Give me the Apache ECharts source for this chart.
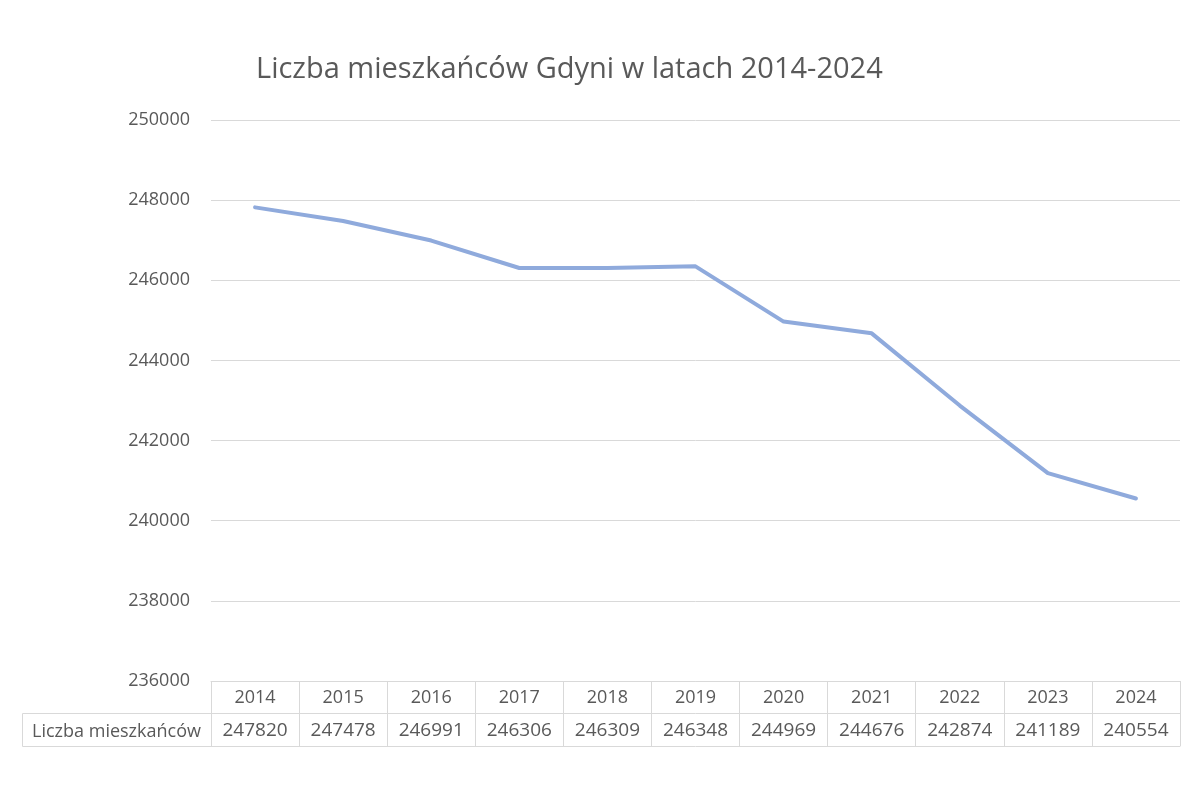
<!DOCTYPE html>
<html>
<head>
<meta charset="utf-8">
<script src="https://cdn.jsdelivr.net/npm/echarts@6/dist/echarts.min.js"></script>
<style>html,body{margin:0;padding:0;background:#fff}#c{width:1200px;height:800px}</style>
</head>
<body>
<div id="c"></div>
<script>
const years = ['2014','2015','2016','2017','2018','2019','2020','2021','2022','2023','2024'];
const population = [247820,247478,246991,246306,246309,246348,244969,244676,242874,241189,240554];
const seriesName = 'Liczba mieszkańców';
const titleText = 'Liczba mieszkańców Gdyni w latach 2014-2024';
const yTicks = {min: 236000, max: 250000, interval: 2000};

const FONT = 'Open Sans';
const TXT = '#595959';
const GRID = '#d9d9d9';

const chart = echarts.init(document.getElementById('c'));
chart.setOption({
  animation: false,
  textStyle: {fontFamily: FONT},
  title: {
    text: titleText, left: 251, top: 50,
    textStyle: {fontFamily: FONT, fontSize: 29, fontWeight: 'normal', color: TXT}
  },
  grid: {left: 211, right: 20, top: 120, bottom: 119, containLabel: false},
  xAxis: [
    {
      type: 'category', data: years, position: 'bottom', boundaryGap: true,
      axisLine: {show: true, lineStyle: {color: GRID, width: 1}},
      axisTick: {show: true, interval: 0, length: 65, lineStyle: {color: GRID, width: 1}},
      axisLabel: {interval: 0, margin: 8, fontSize: 18, color: TXT, fontFamily: FONT},
      splitLine: {show: false}
    },
    {
      type: 'category', data: population.map(String), position: 'bottom', offset: 32, boundaryGap: true,
      axisLine: {show: true, lineStyle: {color: GRID, width: 1}},
      axisTick: {show: false},
      axisLabel: {interval: 0, margin: 8, fontSize: 19, color: TXT, fontFamily: FONT},
      splitLine: {show: false}
    },
    {
      type: 'category', data: years, position: 'bottom', offset: 65, boundaryGap: true,
      axisLine: {show: true, lineStyle: {color: GRID, width: 1}},
      axisTick: {show: false}, axisLabel: {show: false}, splitLine: {show: false}
    }
  ],
  yAxis: {
    type: 'value', min: yTicks.min, max: yTicks.max, interval: yTicks.interval,
    axisLine: {show: false}, axisTick: {show: false},
    axisLabel: {margin: 21, fontSize: 18, color: TXT, fontFamily: FONT, formatter: v => String(v)},
    splitLine: {lineStyle: {color: GRID, width: 1}}
  },
  series: [{
    name: seriesName, type: 'line', data: population, xAxisIndex: 0,
    showSymbol: false, symbol: 'none', smooth: false,
    lineStyle: {color: '#8FAADC', width: 4, cap: 'round', join: 'round'}
  }]
});

// left header cell of the data table
const gridRect = chart.getModel().getComponent('grid').coordinateSystem.getRect();
const rowTop = gridRect.y + gridRect.height + 32;
const rowH = 33;
chart.setOption({
  graphic: [
    {type: 'rect', shape: {x: 22.5, y: rowTop + 0.5, width: gridRect.x - 22, height: rowH},
     style: {fill: 'none', stroke: GRID, lineWidth: 1}, z: 1},
    {type: 'text', x: (22 + gridRect.x) / 2, y: rowTop + rowH / 2 + 2,
     style: {text: seriesName, fill: TXT, font: '18px "' + FONT + '"', textAlign: 'center', textVerticalAlign: 'middle'}, z: 2}
  ]
});
</script>
</body>
</html>
